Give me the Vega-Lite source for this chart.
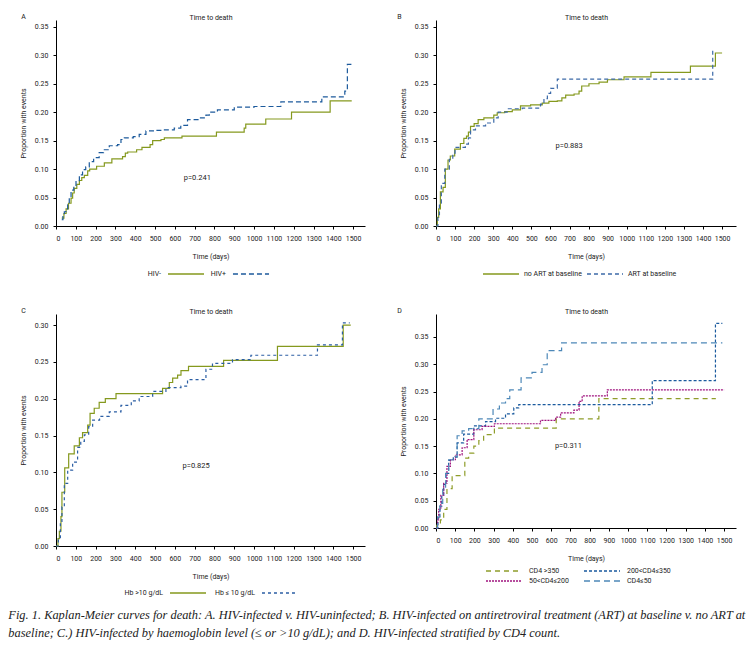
{
"$schema": "https://vega.github.io/schema/vega-lite/v6.json",
"padding": {"left": 8, "top": 13, "right": 2, "bottom": 2},
"background": "white",
"datasets": {
"A": [
{"g":"HIV-","t":29,"p":0.014},{"g":"HIV-","t":40,"p":0.022},{"g":"HIV-","t":51,"p":0.03},{"g":"HIV-","t":63,"p":0.04},{"g":"HIV-","t":76,"p":0.049},{"g":"HIV-","t":84,"p":0.058},{"g":"HIV-","t":92,"p":0.066},{"g":"HIV-","t":105,"p":0.073},{"g":"HIV-","t":118,"p":0.08},{"g":"HIV-","t":130,"p":0.085},{"g":"HIV-","t":143,"p":0.089},{"g":"HIV-","t":160,"p":0.097},{"g":"HIV-","t":170,"p":0.1},{"g":"HIV-","t":205,"p":0.105},{"g":"HIV-","t":244,"p":0.111},{"g":"HIV-","t":282,"p":0.118},{"g":"HIV-","t":336,"p":0.122},{"g":"HIV-","t":350,"p":0.128},{"g":"HIV-","t":362,"p":0.13},{"g":"HIV-","t":407,"p":0.134},{"g":"HIV-","t":434,"p":0.138},{"g":"HIV-","t":475,"p":0.143},{"g":"HIV-","t":488,"p":0.15},{"g":"HIV-","t":530,"p":0.152},{"g":"HIV-","t":547,"p":0.155},{"g":"HIV-","t":636,"p":0.158},{"g":"HIV-","t":810,"p":0.165},{"g":"HIV-","t":950,"p":0.172},{"g":"HIV-","t":958,"p":0.179},{"g":"HIV-","t":1059,"p":0.188},{"g":"HIV-","t":1189,"p":0.2},{"g":"HIV-","t":1384,"p":0.22},{"g":"HIV-","t":1493,"p":0.22},
{"g":"HIV+","t":29,"p":0.011},{"g":"HIV+","t":35,"p":0.02},{"g":"HIV+","t":42,"p":0.025},{"g":"HIV+","t":50,"p":0.03},{"g":"HIV+","t":59,"p":0.037},{"g":"HIV+","t":67,"p":0.05},{"g":"HIV+","t":76,"p":0.063},{"g":"HIV+","t":90,"p":0.07},{"g":"HIV+","t":101,"p":0.078},{"g":"HIV+","t":118,"p":0.09},{"g":"HIV+","t":134,"p":0.099},{"g":"HIV+","t":150,"p":0.104},{"g":"HIV+","t":168,"p":0.113},{"g":"HIV+","t":190,"p":0.12},{"g":"HIV+","t":218,"p":0.129},{"g":"HIV+","t":240,"p":0.134},{"g":"HIV+","t":269,"p":0.141},{"g":"HIV+","t":311,"p":0.143},{"g":"HIV+","t":328,"p":0.152},{"g":"HIV+","t":345,"p":0.155},{"g":"HIV+","t":390,"p":0.157},{"g":"HIV+","t":420,"p":0.161},{"g":"HIV+","t":454,"p":0.167},{"g":"HIV+","t":500,"p":0.168},{"g":"HIV+","t":540,"p":0.169},{"g":"HIV+","t":597,"p":0.172},{"g":"HIV+","t":630,"p":0.177},{"g":"HIV+","t":664,"p":0.187},{"g":"HIV+","t":723,"p":0.19},{"g":"HIV+","t":757,"p":0.195},{"g":"HIV+","t":774,"p":0.2},{"g":"HIV+","t":815,"p":0.204},{"g":"HIV+","t":900,"p":0.209},{"g":"HIV+","t":1000,"p":0.21},{"g":"HIV+","t":1135,"p":0.218},{"g":"HIV+","t":1342,"p":0.227},{"g":"HIV+","t":1458,"p":0.237},{"g":"HIV+","t":1471,"p":0.284},{"g":"HIV+","t":1497,"p":0.284}
],
"B": [
{"g":"no ART at baseline","t":0,"p":0},{"g":"no ART at baseline","t":7,"p":0.015},{"g":"no ART at baseline","t":14,"p":0.03},{"g":"no ART at baseline","t":23,"p":0.06},{"g":"no ART at baseline","t":37,"p":0.068},{"g":"no ART at baseline","t":49,"p":0.1},{"g":"no ART at baseline","t":63,"p":0.116},{"g":"no ART at baseline","t":75,"p":0.123},{"g":"no ART at baseline","t":98,"p":0.135},{"g":"no ART at baseline","t":128,"p":0.145},{"g":"no ART at baseline","t":146,"p":0.154},{"g":"no ART at baseline","t":160,"p":0.158},{"g":"no ART at baseline","t":170,"p":0.165},{"g":"no ART at baseline","t":181,"p":0.175},{"g":"no ART at baseline","t":200,"p":0.18},{"g":"no ART at baseline","t":221,"p":0.187},{"g":"no ART at baseline","t":251,"p":0.19},{"g":"no ART at baseline","t":303,"p":0.195},{"g":"no ART at baseline","t":321,"p":0.199},{"g":"no ART at baseline","t":360,"p":0.201},{"g":"no ART at baseline","t":400,"p":0.204},{"g":"no ART at baseline","t":443,"p":0.211},{"g":"no ART at baseline","t":496,"p":0.213},{"g":"no ART at baseline","t":557,"p":0.216},{"g":"no ART at baseline","t":592,"p":0.219},{"g":"no ART at baseline","t":636,"p":0.22},{"g":"no ART at baseline","t":660,"p":0.225},{"g":"no ART at baseline","t":680,"p":0.23},{"g":"no ART at baseline","t":724,"p":0.232},{"g":"no ART at baseline","t":750,"p":0.237},{"g":"no ART at baseline","t":764,"p":0.246},{"g":"no ART at baseline","t":802,"p":0.25},{"g":"no ART at baseline","t":855,"p":0.253},{"g":"no ART at baseline","t":899,"p":0.257},{"g":"no ART at baseline","t":986,"p":0.262},{"g":"no ART at baseline","t":1127,"p":0.27},{"g":"no ART at baseline","t":1334,"p":0.281},{"g":"no ART at baseline","t":1465,"p":0.304},{"g":"no ART at baseline","t":1500,"p":0.304},
{"g":"ART at baseline","t":0,"p":0},{"g":"ART at baseline","t":10,"p":0.02},{"g":"ART at baseline","t":18,"p":0.04},{"g":"ART at baseline","t":28,"p":0.075},{"g":"ART at baseline","t":46,"p":0.1},{"g":"ART at baseline","t":70,"p":0.117},{"g":"ART at baseline","t":88,"p":0.128},{"g":"ART at baseline","t":100,"p":0.138},{"g":"ART at baseline","t":154,"p":0.144},{"g":"ART at baseline","t":170,"p":0.155},{"g":"ART at baseline","t":181,"p":0.169},{"g":"ART at baseline","t":207,"p":0.176},{"g":"ART at baseline","t":260,"p":0.181},{"g":"ART at baseline","t":303,"p":0.19},{"g":"ART at baseline","t":326,"p":0.2},{"g":"ART at baseline","t":373,"p":0.206},{"g":"ART at baseline","t":452,"p":0.207},{"g":"ART at baseline","t":548,"p":0.214},{"g":"ART at baseline","t":566,"p":0.224},{"g":"ART at baseline","t":584,"p":0.233},{"g":"ART at baseline","t":601,"p":0.242},{"g":"ART at baseline","t":636,"p":0.258},{"g":"ART at baseline","t":1451,"p":0.307},{"g":"ART at baseline","t":1465,"p":0.307}
],
"C": [
{"g":"Hb >10 g/dL","t":0,"p":0},{"g":"Hb >10 g/dL","t":10,"p":0.01},{"g":"Hb >10 g/dL","t":17,"p":0.02},{"g":"Hb >10 g/dL","t":25,"p":0.04},{"g":"Hb >10 g/dL","t":30,"p":0.073},{"g":"Hb >10 g/dL","t":44,"p":0.106},{"g":"Hb >10 g/dL","t":64,"p":0.125},{"g":"Hb >10 g/dL","t":92,"p":0.136},{"g":"Hb >10 g/dL","t":118,"p":0.147},{"g":"Hb >10 g/dL","t":134,"p":0.154},{"g":"Hb >10 g/dL","t":160,"p":0.164},{"g":"Hb >10 g/dL","t":172,"p":0.18},{"g":"Hb >10 g/dL","t":193,"p":0.187},{"g":"Hb >10 g/dL","t":218,"p":0.195},{"g":"Hb >10 g/dL","t":249,"p":0.2},{"g":"Hb >10 g/dL","t":303,"p":0.207},{"g":"Hb >10 g/dL","t":538,"p":0.214},{"g":"Hb >10 g/dL","t":572,"p":0.222},{"g":"Hb >10 g/dL","t":589,"p":0.228},{"g":"Hb >10 g/dL","t":614,"p":0.232},{"g":"Hb >10 g/dL","t":631,"p":0.238},{"g":"Hb >10 g/dL","t":669,"p":0.244},{"g":"Hb >10 g/dL","t":846,"p":0.252},{"g":"Hb >10 g/dL","t":1118,"p":0.271},{"g":"Hb >10 g/dL","t":1450,"p":0.3},{"g":"Hb >10 g/dL","t":1488,"p":0.3},
{"g":"Hb ≤ 10 g/dL","t":0,"p":0},{"g":"Hb ≤ 10 g/dL","t":12,"p":0.01},{"g":"Hb ≤ 10 g/dL","t":22,"p":0.03},{"g":"Hb ≤ 10 g/dL","t":30,"p":0.053},{"g":"Hb ≤ 10 g/dL","t":42,"p":0.085},{"g":"Hb ≤ 10 g/dL","t":59,"p":0.103},{"g":"Hb ≤ 10 g/dL","t":84,"p":0.114},{"g":"Hb ≤ 10 g/dL","t":109,"p":0.134},{"g":"Hb ≤ 10 g/dL","t":125,"p":0.142},{"g":"Hb ≤ 10 g/dL","t":143,"p":0.151},{"g":"Hb ≤ 10 g/dL","t":165,"p":0.162},{"g":"Hb ≤ 10 g/dL","t":185,"p":0.171},{"g":"Hb ≤ 10 g/dL","t":220,"p":0.176},{"g":"Hb ≤ 10 g/dL","t":269,"p":0.182},{"g":"Hb ≤ 10 g/dL","t":328,"p":0.191},{"g":"Hb ≤ 10 g/dL","t":380,"p":0.197},{"g":"Hb ≤ 10 g/dL","t":420,"p":0.203},{"g":"Hb ≤ 10 g/dL","t":488,"p":0.21},{"g":"Hb ≤ 10 g/dL","t":555,"p":0.215},{"g":"Hb ≤ 10 g/dL","t":631,"p":0.217},{"g":"Hb ≤ 10 g/dL","t":664,"p":0.226},{"g":"Hb ≤ 10 g/dL","t":757,"p":0.24},{"g":"Hb ≤ 10 g/dL","t":790,"p":0.248},{"g":"Hb ≤ 10 g/dL","t":891,"p":0.253},{"g":"Hb ≤ 10 g/dL","t":984,"p":0.259},{"g":"Hb ≤ 10 g/dL","t":1320,"p":0.273},{"g":"Hb ≤ 10 g/dL","t":1446,"p":0.303},{"g":"Hb ≤ 10 g/dL","t":1483,"p":0.303}
],
"D": [
{"g":"CD4 >350","t":0,"p":0},{"g":"CD4 >350","t":4,"p":0.005},{"g":"CD4 >350","t":23,"p":0.015},{"g":"CD4 >350","t":40,"p":0.034},{"g":"CD4 >350","t":57,"p":0.072},{"g":"CD4 >350","t":84,"p":0.096},{"g":"CD4 >350","t":150,"p":0.128},{"g":"CD4 >350","t":170,"p":0.137},{"g":"CD4 >350","t":197,"p":0.15},{"g":"CD4 >350","t":223,"p":0.16},{"g":"CD4 >350","t":248,"p":0.171},{"g":"CD4 >350","t":304,"p":0.183},{"g":"CD4 >350","t":626,"p":0.2},{"g":"CD4 >350","t":848,"p":0.237},{"g":"CD4 >350","t":1457,"p":0.237},
{"g":"200<CD4≤350","t":0,"p":0},{"g":"200<CD4≤350","t":10,"p":0.02},{"g":"200<CD4≤350","t":20,"p":0.04},{"g":"200<CD4≤350","t":30,"p":0.06},{"g":"200<CD4≤350","t":40,"p":0.08},{"g":"200<CD4≤350","t":52,"p":0.1},{"g":"200<CD4≤350","t":66,"p":0.124},{"g":"200<CD4≤350","t":90,"p":0.13},{"g":"200<CD4≤350","t":110,"p":0.156},{"g":"200<CD4≤350","t":144,"p":0.172},{"g":"200<CD4≤350","t":197,"p":0.187},{"g":"200<CD4≤350","t":258,"p":0.195},{"g":"200<CD4≤350","t":310,"p":0.201},{"g":"200<CD4≤350","t":362,"p":0.209},{"g":"200<CD4≤350","t":405,"p":0.22},{"g":"200<CD4≤350","t":431,"p":0.226},{"g":"200<CD4≤350","t":1126,"p":0.27},{"g":"200<CD4≤350","t":1455,"p":0.375},{"g":"200<CD4≤350","t":1491,"p":0.375},
{"g":"50<CD4≤200","t":0,"p":0},{"g":"50<CD4≤200","t":8,"p":0.015},{"g":"50<CD4≤200","t":14,"p":0.034},{"g":"50<CD4≤200","t":25,"p":0.06},{"g":"50<CD4≤200","t":40,"p":0.082},{"g":"50<CD4≤200","t":57,"p":0.113},{"g":"50<CD4≤200","t":75,"p":0.125},{"g":"50<CD4≤200","t":101,"p":0.134},{"g":"50<CD4≤200","t":136,"p":0.147},{"g":"50<CD4≤200","t":162,"p":0.162},{"g":"50<CD4≤200","t":197,"p":0.18},{"g":"50<CD4≤200","t":240,"p":0.186},{"g":"50<CD4≤200","t":304,"p":0.191},{"g":"50<CD4≤200","t":544,"p":0.197},{"g":"50<CD4≤200","t":623,"p":0.203},{"g":"50<CD4≤200","t":649,"p":0.211},{"g":"50<CD4≤200","t":718,"p":0.216},{"g":"50<CD4≤200","t":745,"p":0.232},{"g":"50<CD4≤200","t":761,"p":0.242},{"g":"50<CD4≤200","t":892,"p":0.253},{"g":"50<CD4≤200","t":1500,"p":0.253},
{"g":"CD4≤50","t":0,"p":0},{"g":"CD4≤50","t":8,"p":0.02},{"g":"CD4≤50","t":20,"p":0.045},{"g":"CD4≤50","t":35,"p":0.075},{"g":"CD4≤50","t":50,"p":0.1},{"g":"CD4≤50","t":66,"p":0.125},{"g":"CD4≤50","t":92,"p":0.131},{"g":"CD4≤50","t":110,"p":0.169},{"g":"CD4≤50","t":136,"p":0.178},{"g":"CD4≤50","t":170,"p":0.182},{"g":"CD4≤50","t":223,"p":0.2},{"g":"CD4≤50","t":297,"p":0.218},{"g":"CD4≤50","t":330,"p":0.229},{"g":"CD4≤50","t":362,"p":0.237},{"g":"CD4≤50","t":384,"p":0.253},{"g":"CD4≤50","t":443,"p":0.275},{"g":"CD4≤50","t":500,"p":0.285},{"g":"CD4≤50","t":552,"p":0.299},{"g":"CD4≤50","t":579,"p":0.325},{"g":"CD4≤50","t":654,"p":0.339},{"g":"CD4≤50","t":1491,"p":0.339}
]
},
"title": {
"text": ["Fig. 1. Kaplan-Meier curves for death: A. HIV-infected v. HIV-uninfected; B. HIV-infected on antiretroviral treatment (ART) at baseline v. no ART at", "baseline; C.) HIV-infected by haemoglobin level (≤ or >10 g/dL); and D. HIV-infected stratified by CD4 count."],
"orient": "bottom", "anchor": "start", "frame": "bounds",
"font": "Liberation Serif", "fontStyle": "italic", "fontSize": 12.4, "fontWeight": "normal", "color": "#222", "lineHeight": 18, "offset": 13, "dx": -11
},
"vconcat": [
{
"hconcat": [
{
"width": 309, "height": 206,
"data": {"name": "A"},
"title": {"text": "A", "anchor": "start", "frame": "bounds", "dy": 11, "dx": 2},
"layer": [
{"mark": {"type": "line", "interpolate": "step-after", "strokeWidth": 1.2},
"encoding": {
"x": {"field": "t", "type": "quantitative", "scale": {"domain": [0, 1560], "nice": false}, "axis": {"title": "Time (days)", "format": "d", "domain": true, "ticks": true, "values": [0,100,200,300,400,500,600,700,800,900,1000,1100,1200,1300,1400,1500]}},
"y": {"field": "p", "type": "quantitative", "scale": {"domain": [0, 0.362], "nice": false}, "axis": {"title": "Proportion with events", "domain": true, "ticks": true, "values": [0,0.05,0.1,0.15,0.2,0.25,0.3,0.35], "format": ".2f"}},
"color": {"field": "g", "type": "nominal", "scale": {"domain": ["HIV-","HIV+"], "range": ["#85991e","#1c5a9c"]}, "legend": {"title": null, "orient": "none", "legendX": 111, "legendY": 235, "direction": "horizontal", "labelAlign": "right", "labelOffset": -44, "columnPadding": 3}},
"strokeDash": {"field": "g", "type": "nominal", "scale": {"domain": ["HIV-","HIV+"], "range": [[1,0],[5,3]]}, "legend": {"title": null, "orient": "none", "legendX": 111, "legendY": 235, "direction": "horizontal", "labelAlign": "right", "labelOffset": -44, "columnPadding": 3}}
}},
{"mark": {"type": "point", "opacity": 0},
"encoding": {"x": {"field": "t", "type": "quantitative", "axis": {"orient": "top", "title": "Time to death", "labels": false, "ticks": false, "domain": false, "titlePadding": 0}}}},
{"data": {"values": [{"txt": "p=0.241"}]},
"mark": {"type": "text", "align": "left", "baseline": "middle", "fontSize": 7.5, "color": "#222"},
"encoding": {"x": {"datum": 645, "type": "quantitative", "axis": null}, "y": {"datum": 0.085, "type": "quantitative", "axis": null}, "text": {"field": "txt"}}}
],
"resolve": {"axis": {"x": "independent", "y": "independent"}}
},
{
"width": 300, "height": 206,
"data": {"name": "B"},
"title": {"text": "B", "anchor": "start", "frame": "bounds", "dy": 11, "dx": -2},
"layer": [
{"mark": {"type": "line", "interpolate": "step-after", "strokeWidth": 1.2},
"encoding": {
"x": {"field": "t", "type": "quantitative", "scale": {"domain": [0, 1573], "nice": false}, "axis": {"title": "Time (days)", "format": "d", "domain": true, "ticks": true, "values": [0,100,200,300,400,500,600,700,800,900,1000,1100,1200,1300,1400,1500]}},
"y": {"field": "p", "type": "quantitative", "scale": {"domain": [0, 0.362], "nice": false}, "axis": {"title": "Proportion with events", "domain": true, "ticks": true, "values": [0,0.05,0.1,0.15,0.2,0.25,0.3,0.35], "format": ".2f"}},
"color": {"field": "g", "type": "nominal", "scale": {"domain": ["no ART at baseline","ART at baseline"], "range": ["#85991e","#3c6aa8"]}, "legend": {"title": null, "orient": "none", "legendX": 46, "legendY": 235, "direction": "horizontal", "columnPadding": 2}},
"strokeDash": {"field": "g", "type": "nominal", "scale": {"domain": ["no ART at baseline","ART at baseline"], "range": [[1,0],[4,3]]}, "legend": {"title": null, "orient": "none", "legendX": 46, "legendY": 235, "direction": "horizontal", "columnPadding": 2}}
}},
{"mark": {"type": "point", "opacity": 0},
"encoding": {"x": {"field": "t", "type": "quantitative", "axis": {"orient": "top", "title": "Time to death", "labels": false, "ticks": false, "domain": false, "titlePadding": 0}}}},
{"data": {"values": [{"txt": "p=0.883"}]},
"mark": {"type": "text", "align": "left", "baseline": "middle", "fontSize": 7.5, "color": "#222"},
"encoding": {"x": {"datum": 627, "type": "quantitative", "axis": null}, "y": {"datum": 0.141, "type": "quantitative", "axis": null}, "text": {"field": "txt"}}}
],
"resolve": {"axis": {"x": "independent", "y": "independent"}}
}
],
"spacing": 32,
"resolve": {"scale": {"color": "independent", "strokeDash": "independent", "x": "independent", "y": "independent"}, "legend": {"color": "independent", "strokeDash": "independent"}}
},
{
"hconcat": [
{
"width": 309, "height": 232,
"data": {"name": "C"},
"title": {"text": "C", "anchor": "start", "frame": "bounds", "dy": 11, "dx": 2},
"layer": [
{"mark": {"type": "line", "interpolate": "step-after", "strokeWidth": 1.2},
"encoding": {
"x": {"field": "t", "type": "quantitative", "scale": {"domain": [0, 1560], "nice": false}, "axis": {"title": "Time (days)", "format": "d", "domain": true, "ticks": true, "values": [0,100,200,300,400,500,600,700,800,900,1000,1100,1200,1300,1400,1500]}},
"y": {"field": "p", "type": "quantitative", "scale": {"domain": [0, 0.315], "nice": false}, "axis": {"title": "Proportion with events", "domain": true, "ticks": true, "values": [0,0.05,0.1,0.15,0.2,0.25,0.3], "format": ".2f"}},
"color": {"field": "g", "type": "nominal", "scale": {"domain": ["Hb >10 g/dL","Hb ≤ 10 g/dL"], "range": ["#85991e","#2b5ea4"]}, "legend": {"title": null, "orient": "none", "legendX": 113, "legendY": 260, "direction": "horizontal", "labelAlign": "right", "labelOffset": -44, "columnPadding": 5}},
"strokeDash": {"field": "g", "type": "nominal", "scale": {"domain": ["Hb >10 g/dL","Hb ≤ 10 g/dL"], "range": [[1,0],[3,3]]}, "legend": {"title": null, "orient": "none", "legendX": 113, "legendY": 260, "direction": "horizontal", "labelAlign": "right", "labelOffset": -44, "columnPadding": 5}}
}},
{"mark": {"type": "point", "opacity": 0},
"encoding": {"x": {"field": "t", "type": "quantitative", "axis": {"orient": "top", "title": "Time to death", "labels": false, "ticks": false, "domain": false, "titlePadding": 0}}}},
{"data": {"values": [{"txt": "p=0.825"}]},
"mark": {"type": "text", "align": "left", "baseline": "middle", "fontSize": 7.5, "color": "#222"},
"encoding": {"x": {"datum": 639, "type": "quantitative", "axis": null}, "y": {"datum": 0.109, "type": "quantitative", "axis": null}, "text": {"field": "txt"}}}
],
"resolve": {"axis": {"x": "independent", "y": "independent"}}
},
{
"width": 300, "height": 214,
"data": {"name": "D"},
"title": {"text": "D", "anchor": "start", "frame": "bounds", "dy": 11, "dx": -2},
"layer": [
{"mark": {"type": "line", "interpolate": "step-after", "strokeWidth": 1.2},
"encoding": {
"x": {"field": "t", "type": "quantitative", "scale": {"domain": [0, 1562], "nice": false}, "axis": {"title": "Time (days)", "format": "d", "domain": true, "ticks": true, "values": [0,100,200,300,400,500,600,700,800,900,1000,1100,1200,1300,1400,1500]}},
"y": {"field": "p", "type": "quantitative", "scale": {"domain": [0, 0.392], "nice": false}, "axis": {"title": "Proportion with events", "domain": true, "ticks": true, "values": [0,0.05,0.1,0.15,0.2,0.25,0.3,0.35], "format": ".2f"}},
"color": {"field": "g", "type": "nominal", "scale": {"domain": ["CD4 >350","200<CD4≤350","50<CD4≤200","CD4≤50"], "range": ["#8f9d2a","#1a5a9e","#a0157f","#4d88b8"]}, "legend": {"title": null, "orient": "none", "legendX": 61, "legendY": 250, "direction": "horizontal", "columns": 2, "columnPadding": 12, "rowPadding": 0, "symbolType": "M-3,0H3", "symbolSize": 144, "labelOffset": 18}},
"strokeDash": {"field": "g", "type": "nominal", "scale": {"domain": ["CD4 >350","200<CD4≤350","50<CD4≤200","CD4≤50"], "range": [[5,4],[3,2],[2,1],[6,4]]}, "legend": {"title": null, "orient": "none", "legendX": 61, "legendY": 250, "direction": "horizontal", "columns": 2, "columnPadding": 12, "rowPadding": 0, "symbolType": "M-3,0H3", "symbolSize": 144, "labelOffset": 18}}
}},
{"mark": {"type": "point", "opacity": 0},
"encoding": {"x": {"field": "t", "type": "quantitative", "axis": {"orient": "top", "title": "Time to death", "labels": false, "ticks": false, "domain": false, "titlePadding": 0}}}},
{"data": {"values": [{"txt": "p=0.311"}]},
"mark": {"type": "text", "align": "left", "baseline": "middle", "fontSize": 7.5, "color": "#222"},
"encoding": {"x": {"datum": 619, "type": "quantitative", "axis": null}, "y": {"datum": 0.15, "type": "quantitative", "axis": null}, "text": {"field": "txt"}}}
],
"resolve": {"axis": {"x": "independent", "y": "independent"}}
}
],
"spacing": 32,
"resolve": {"scale": {"color": "independent", "strokeDash": "independent", "x": "independent", "y": "independent"}, "legend": {"color": "independent", "strokeDash": "independent"}}
}
],
"spacing": 30,
"resolve": {"scale": {"color": "independent", "strokeDash": "independent", "x": "independent", "y": "independent"}, "legend": {"color": "independent", "strokeDash": "independent"}},
"config": {
"view": {"stroke": null},
"font": "Roboto",
"axis": {"grid": false, "domainColor": "#000", "domainWidth": 1, "tickColor": "#000", "tickSize": 3, "labelFontSize": 7, "labelColor": "#222", "titleFontSize": 7, "titleFontWeight": "normal", "titleColor": "#222", "labelPadding": 5},
"axisY": {"titlePadding": 8},
"axisX": {"titlePadding": 11},
"legend": {"symbolType": "stroke", "symbolSize": 1300, "symbolStrokeWidth": 1.3, "labelFontSize": 7, "labelColor": "#222", "labelFont": "Roboto"},
"title": {"fontSize": 7, "fontWeight": "normal", "color": "#222", "font": "Roboto"}
}
}
